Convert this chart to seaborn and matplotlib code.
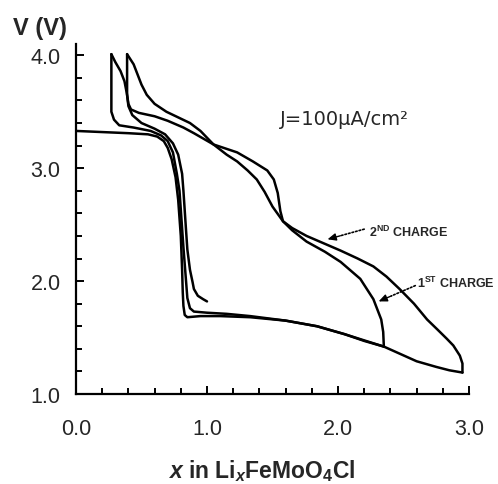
import numpy as np
import pandas as pd
import matplotlib
matplotlib.use("Agg")
import matplotlib.pyplot as plt
import seaborn as sns
from matplotlib.ticker import MultipleLocator, FixedLocator

# ---------------- data ----------------
dis1_x = [0.00, 0.20, 0.40, 0.55, 0.62, 0.67, 0.70, 0.73, 0.76, 0.78, 0.80, 0.81, 0.815, 0.82, 0.83, 0.85, 0.95, 1.10, 1.33, 1.60, 1.84, 2.05, 2.20, 2.35]
dis1_v = [3.33, 3.32, 3.31, 3.30, 3.28, 3.24, 3.18, 3.08, 2.92, 2.72, 2.40, 2.10, 1.90, 1.78, 1.70, 1.68, 1.69, 1.69, 1.68, 1.65, 1.60, 1.53, 1.47, 1.42]

chg1_x = [2.35, 2.345, 2.33, 2.27, 2.17, 2.02, 1.90, 1.76, 1.65, 1.58, 1.56, 1.54, 1.51, 1.46, 1.35, 1.23, 1.05, 0.90, 0.82, 0.70, 0.60, 0.48, 0.42, 0.40, 0.39, 0.37, 0.34, 0.30, 0.27]
chg1_v = [1.42, 1.55, 1.66, 1.84, 2.02, 2.17, 2.26, 2.35, 2.45, 2.53, 2.62, 2.78, 2.90, 2.98, 3.06, 3.14, 3.21, 3.31, 3.36, 3.42, 3.46, 3.49, 3.52, 3.57, 3.65, 3.77, 3.86, 3.94, 4.01]

dis2_x = [0.27, 0.27, 0.27, 0.29, 0.33, 0.44, 0.57, 0.65, 0.70, 0.74, 0.77, 0.79, 0.82, 0.84, 0.85, 0.87, 0.90, 1.00, 1.15, 1.33, 1.60, 1.84, 2.05, 2.35, 2.60, 2.75, 2.85, 2.95]
dis2_v = [4.01, 3.75, 3.50, 3.43, 3.38, 3.36, 3.33, 3.29, 3.24, 3.14, 2.95, 2.80, 2.30, 2.00, 1.85, 1.76, 1.73, 1.72, 1.71, 1.69, 1.65, 1.60, 1.53, 1.42, 1.29, 1.24, 1.21, 1.19]

chg2_x = [2.95, 2.95, 2.93, 2.88, 2.83, 2.76, 2.68, 2.58, 2.47, 2.37, 2.27, 2.15, 2.02, 1.90, 1.76, 1.65, 1.58, 1.50, 1.44, 1.38, 1.31, 1.23, 1.15, 1.05, 0.95, 0.87, 0.78, 0.69, 0.60, 0.54, 0.50, 0.47, 0.44, 0.39]
chg2_v = [1.19, 1.27, 1.34, 1.43, 1.49, 1.57, 1.66, 1.80, 1.93, 2.04, 2.13, 2.20, 2.27, 2.33, 2.40, 2.47, 2.53, 2.66, 2.79, 2.90, 2.98, 3.06, 3.12, 3.21, 3.33, 3.40, 3.45, 3.50, 3.57, 3.65, 3.74, 3.83, 3.92, 4.01]

dis3_x = [0.39, 0.39, 0.40, 0.43, 0.50, 0.60, 0.68, 0.74, 0.78, 0.81, 0.82, 0.84, 0.85, 0.87, 0.89, 0.90, 0.93, 0.97, 1.00]
dis3_v = [4.01, 3.65, 3.55, 3.47, 3.40, 3.35, 3.30, 3.22, 3.12, 2.95, 2.80, 2.45, 2.28, 2.10, 1.99, 1.93, 1.87, 1.84, 1.82]

x_ticks = [0.0, 1.0, 2.0, 3.0]
x_ticklabels = ["0.0", "1.0", "2.0", "3.0"]
y_ticks = [1.0, 2.0, 3.0, 4.0]
y_ticklabels = ["1.0", "2.0", "3.0", "4.0"]

current_label = "J=100\u03bcA/cm\u00b2"
label_2nd = r"2$^{\rm ND}$ CHARGE"
label_1st = r"1$^{\rm ST}$ CHARGE"

# ---------------- build table ----------------
frames = []
for name, xs, vs in [("dis1", dis1_x, dis1_v), ("chg1", chg1_x, chg1_v),
                     ("dis2", dis2_x, dis2_v), ("chg2", chg2_x, chg2_v),
                     ("dis3", dis3_x, dis3_v)]:
    frames.append(pd.DataFrame({"x": xs, "V": vs, "curve": name, "order": range(len(xs))}))
df = pd.concat(frames, ignore_index=True)

# ---------------- style ----------------
sns.set_style("ticks")
plt.rcParams["font.family"] = ["Liberation Sans", "DejaVu Sans"]
plt.rcParams["mathtext.fontset"] = "custom"
plt.rcParams["mathtext.rm"] = "Liberation Sans:bold"
plt.rcParams["mathtext.bf"] = "Liberation Sans:bold"
plt.rcParams["mathtext.it"] = "Liberation Sans:bold:italic"

fig = plt.figure(figsize=(4.98, 4.85), dpi=100)
ax = fig.add_axes([76 / 498, 1 - 395 / 485, 393 / 498, 350 / 485])

for name in ["dis1", "chg1", "dis2", "chg2", "dis3"]:
    sub = df[df["curve"] == name]
    sns.lineplot(data=sub, x="x", y="V", sort=False, estimator=None,
                 color="black", linewidth=1.8, ax=ax, legend=False)

ax.set_xlim(0, 3.0)
ax.set_ylim(1.0, 4.1)
ax.xaxis.set_major_locator(FixedLocator(x_ticks))
ax.set_xticklabels(x_ticklabels)
ax.yaxis.set_major_locator(FixedLocator(y_ticks))
ax.set_yticklabels(y_ticklabels)
ax.xaxis.set_minor_locator(MultipleLocator(0.2))
ax.yaxis.set_minor_locator(MultipleLocator(0.2))
ax.tick_params(which="both", direction="in", width=1.4, color="black")
ax.tick_params(which="major", length=6)
ax.tick_params(which="minor", length=4.5)
ax.tick_params(axis="x", which="major", pad=17, labelsize=15.5)
ax.tick_params(axis="y", which="major", pad=11, labelsize=15.5)
for s in ["top", "right"]:
    ax.spines[s].set_visible(False)
for s in ["left", "bottom"]:
    ax.spines[s].set_linewidth(1.6)
    ax.spines[s].set_color("black")

ax.set_xlabel(r"$x$ in Li$_{x}$FeMoO$_{4}$Cl", fontsize=16.5, fontweight="bold")
ax.xaxis.label.set_va("center")
ax.xaxis.set_label_coords(0.473, -0.218)
ax.set_ylabel("V (V)", fontsize=17, fontweight="bold", rotation=0, ha="center", va="center")
ax.yaxis.set_label_coords(-0.092, 1.048)

ax.text(1.557, 3.436, current_label, fontsize=14, family="DejaVu Sans",
        ha="left", va="center")
ax.text(2.24, 2.44, label_2nd, fontsize=9, fontweight="bold", ha="left", va="center")
ax.text(2.60, 1.99, label_1st, fontsize=9, fontweight="bold", ha="left", va="center", clip_on=False)

# dotted arrows
for tail, tip in [((2.20, 2.46), (1.92, 2.37)), ((2.59, 1.96), (2.31, 1.82))]:
    mid = (tip[0] + 0.35 * (tail[0] - tip[0]), tip[1] + 0.35 * (tail[1] - tip[1]))
    ax.annotate("", xy=mid, xytext=tail,
                arrowprops=dict(arrowstyle="-", linestyle=(0, (1, 1.2)), lw=1.2, color="black",
                                shrinkA=0, shrinkB=0))
    ax.annotate("", xy=tip, xytext=mid,
                arrowprops=dict(arrowstyle="-|>,head_length=0.5,head_width=0.22", lw=1.0,
                                color="black", shrinkA=0, shrinkB=0))

fig.savefig("out.png", dpi=100)
